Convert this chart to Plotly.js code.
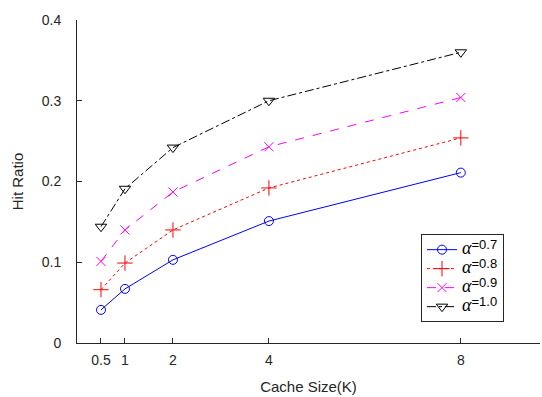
<!DOCTYPE html>
<html><head><meta charset="utf-8">
<script src="https://cdn.plot.ly/plotly-3.0.1.min.js"></script>
<style>html,body{margin:0;padding:0;background:#fff}</style>
</head><body>
<div id="chart" style="width:542px;height:397px"></div>
<script>
const cacheSize = [0.5, 1, 2, 4, 8];
const alpha07 = [0.041, 0.067, 0.103, 0.151, 0.211];
const alpha08 = [0.066, 0.099, 0.140, 0.192, 0.254];
const alpha09 = [0.101, 0.140, 0.187, 0.243, 0.304];
const alpha10 = [0.144, 0.191, 0.242, 0.300, 0.360];
const seriesNames = ['=0.7', '=0.8', '=0.9', '=1.0'];
const xTicks = [0.5, 1, 2, 4, 8];
const yTicks = [0, 0.1, 0.2, 0.3, 0.4];

function nm(s){ return '<span style="font-family:\'Liberation Serif\',serif;font-size:18px"><i>α</i></span><sup><span style="font-size:13px">' + s + '</span></sup>'; }

const traces = [
  {x: cacheSize, y: alpha07, name: nm(seriesNames[0]), mode: 'lines+markers',
   line: {color: '#0000ff', width: 1, dash: 'solid'},
   marker: {symbol: 'circle-open', size: 9, color: '#0000ff', line: {width: 1, color: '#0000ff'}}},
  {x: cacheSize, y: alpha08, name: nm(seriesNames[1]), mode: 'lines+markers',
   line: {color: '#ff0000', width: 1, dash: 'dot'},
   marker: {symbol: 'cross-thin-open', size: 11, color: '#ff0000', line: {width: 1, color: '#ff0000'}}},
  {x: cacheSize, y: alpha09, name: nm(seriesNames[2]), mode: 'lines+markers',
   line: {color: '#ff00ff', width: 1, dash: 'dash'},
   marker: {symbol: 'x-thin-open', size: 9, color: '#ff00ff', line: {width: 1, color: '#ff00ff'}}},
  {x: cacheSize, y: alpha10, name: nm(seriesNames[3]), mode: 'lines+markers',
   line: {color: '#000000', width: 1, dash: 'dashdot'},
   marker: {symbol: 'triangle-down-open', size: 10, color: '#000000', line: {width: 1, color: '#000000'}}}
];

const layout = {
  width: 542, height: 397,
  margin: {l: 77, r: 2, t: 20, b: 54},
  paper_bgcolor: '#fff', plot_bgcolor: '#fff',
  font: {family: 'Liberation Sans, Arial, sans-serif', size: 14, color: '#262626'},
  showlegend: true,
  legend: {x: 0.743, y: 0.337, xanchor: 'left', yanchor: 'top',
           bordercolor: '#262626', borderwidth: 1, bgcolor: '#fff',
           entrywidth: 100, entrywidthmode: 'pixels',
           font: {size: 12, color: '#000'}, tracegroupgap: 0},
  xaxis: {range: [0, 9.65], tickvals: xTicks, ticktext: xTicks.map(String),
          showgrid: false, zeroline: false, showline: true, linecolor: '#262626', linewidth: 1,
          ticks: 'inside', ticklen: 5, tickcolor: '#262626', ticklabelstandoff: 4,
          title: {text: 'Cache Size(K)', font: {size: 15}, standoff: 14}},
  yaxis: {range: [0, 0.4], tickvals: yTicks, ticktext: ['0', '0.1', '0.2', '0.3', '0.4'],
          showgrid: false, zeroline: false, showline: true, linecolor: '#262626', linewidth: 1,
          ticks: 'inside', ticklen: 5, tickcolor: '#262626', ticklabelstandoff: 12,
          title: {text: 'Hit Ratio', font: {size: 15}, standoff: 14}}
};

Plotly.newPlot('chart', traces, layout, {displayModeBar: false, staticPlot: true});
</script>
</body></html>
